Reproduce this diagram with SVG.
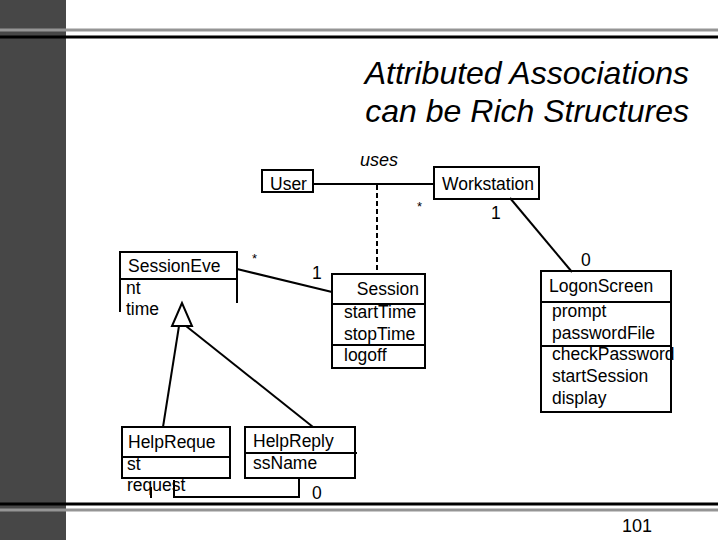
<svg xmlns="http://www.w3.org/2000/svg" width="720" height="540" viewBox="0 0 720 540">
<style>
text{font-family:"Liberation Sans",Arial,sans-serif;fill:#000}
.n{font-size:17.5px}
.m{font-size:13px}
.b{fill:none;stroke:#000;stroke-width:2}
.c{fill:none;stroke:#000;stroke-width:2}
</style>
<rect x="0" y="0" width="720" height="540" fill="#fff"/>
<rect x="0" y="0" width="66" height="540" fill="#474747"/>
<line x1="0" y1="30" x2="718" y2="30" stroke="#959595" stroke-width="3"/>
<line x1="0" y1="37" x2="718" y2="37" stroke="#000" stroke-width="3"/>
<line x1="0" y1="504" x2="718" y2="504" stroke="#000" stroke-width="3"/>
<line x1="0" y1="510" x2="718" y2="510" stroke="#959595" stroke-width="3"/>
<text x="689" y="84" font-size="32" font-style="italic" text-anchor="end">Attributed Associations</text>
<text x="689" y="122" font-size="32" font-style="italic" text-anchor="end">can be Rich Structures</text>
<text x="622" y="532" font-size="18">101</text>

<g id="connectors">
<line class="c" x1="313" y1="184" x2="434" y2="184"/>
<line class="c" x1="377" y1="185" x2="377" y2="273" stroke-dasharray="5,3"/>
<line class="c" x1="510" y1="198" x2="572" y2="272"/>
<line class="c" x1="237" y1="269" x2="332" y2="292"/>
<polygon points="182,303 172,326 192,326" fill="#fff" stroke="#000" stroke-width="2"/>
<line class="c" x1="179" y1="326" x2="163" y2="427"/>
<line class="c" x1="186" y1="326" x2="313" y2="427"/>
<polyline class="c" points="299,478 299,497 174,497 174,480"/>
<line class="c" x1="151" y1="487" x2="151" y2="498"/>
<text x="360" y="166" font-size="18" font-style="italic">uses</text>
<text x="417" y="211" class="m">*</text>
<text x="491" y="219" class="n">1</text>
<text x="581" y="266" class="n">0</text>
<text x="252" y="263" class="m">*</text>
<text x="312" y="279" class="n">1</text>
<text x="312" y="499" class="n">0</text>
</g>

<g id="user">
<rect class="b" x="262" y="170" width="51" height="22"/>
<text x="270" y="190" class="n">User</text>
</g>
<g id="workstation">
<rect class="b" x="434" y="167" width="105" height="32"/>
<text x="442" y="190" class="n">Workstation</text>
</g>
<g id="session">
<rect class="b" x="332" y="274" width="93" height="94"/>
<line class="b" x1="332" y1="304" x2="425" y2="304"/>
<line class="b" x1="332" y1="345" x2="425" y2="345"/>
<text x="419" y="295" class="n" text-anchor="end">Session</text>
<text x="344" y="318" class="n">startTime</text>
<text x="344" y="340" class="n">stopTime</text>
<text x="344" y="361" class="n">logoff</text>
</g>
<g id="logonscreen">
<rect class="b" x="541" y="271" width="130" height="141"/>
<line class="b" x1="541" y1="302" x2="671" y2="302"/>
<line class="b" x1="541" y1="346" x2="671" y2="346"/>
<text x="549" y="292" class="n">LogonScreen</text>
<text x="552" y="317" class="n">prompt</text>
<text x="552" y="339" class="n">passwordFile</text>
<text x="552" y="360" class="n">checkPassword</text>
<text x="552" y="382" class="n">startSession</text>
<text x="552" y="404" class="n">display</text>
</g>
<g id="sessionevent">
<polyline class="b" points="120,312 120,252 237,252 237,303"/>
<line class="b" x1="120" y1="279" x2="237" y2="279"/>
<text x="128" y="272" class="n">SessionEve</text>
<text x="126" y="294" class="n">nt</text>
<text x="126" y="315" class="n">time</text>
</g>
<g id="helprequest">
<rect class="b" x="122" y="427" width="108" height="51"/>
<line class="b" x1="122" y1="457" x2="230" y2="457"/>
<text x="128" y="448" class="n">HelpReque</text>
<text x="127" y="470" class="n">st</text>
<text x="127" y="491" class="n">request</text>
</g>
<g id="helpreply">
<rect class="b" x="245" y="427" width="110" height="51"/>
<line class="b" x1="245" y1="453" x2="357" y2="453"/>
<text x="253" y="447" class="n">HelpReply</text>
<text x="253" y="469" class="n">ssName</text>
</g>
</svg>
